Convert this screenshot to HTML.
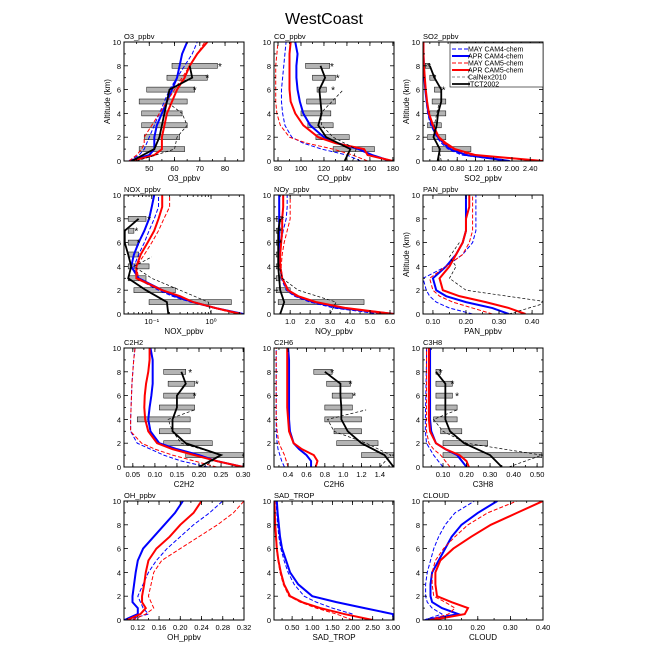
<!DOCTYPE html>
<html><head><meta charset="utf-8"><style>
html,body{margin:0;padding:0;background:#fff}
svg{display:block;font-family:"Liberation Sans",sans-serif}
</style></head><body>
<svg id="chart" width="648" height="648" viewBox="0 0 648 648">
<text x="324" y="24" text-anchor="middle" font-size="16" fill="#000">WestCoast</text>
</svg>
<script>
// shared altitude levels (km)
const ALT=[0,0.5,1,1.5,2,3,4,5,6,7,8,9,10];
const OBS_ALT=[0,1,2,3,4,5,6,7,8];
const CAL_ALT=[0,1,2,3,4,4.8,6];
const BAR_ALT=[1,2,3,4,5,6,7,8];
const STAR_ALT=[6,7,8];
const SERIES_NAMES=["MAY CAM4-chem","APR CAM4-chem","MAY CAM5-chem","APR CAM5-chem","CalNex2010","ITCT2002"];

// O3
const O3_may4=[42,46,48,49,50,52,54,56,58,61,64,67,69];
const O3_apr4=[42,50,52,52,52,53,55,57,59,61,62,63,65];
const O3_may5=[42,45,47,48,48,51,54,57,60,63,66,69,72];
const O3_apr5=[43,52,55,55,55,56,57,59,61,64,66,69,73];
const O3_itct=[43,52,54,55,56,57,58,67,66];
const O3_cal=[45,60,61,65,63,58];
const O3_barLo=[46,48,47,47,46,49,57,59];
const O3_barHi=[64,62,65,63,65,68,73,77];
const O3_star=[68,73,78];
// CO
const CO_may4=[152,140,118,102,92,86,84,83,83,84,85,86,87];
const CO_apr4=[178,162,150,132,120,108,102,99,97,96,96,97,95];
const CO_may5=[158,145,128,105,90,82,79,78,78,78,78,79,80];
const CO_apr5=[180,158,155,130,115,102,95,91,90,90,90,90,91];
const CO_itct=[138,143,122,115,118,117,116,121,117];
const CO_cal=[145,148,128,118,117,125,137];
const CO_barLo=[128,113,106,100,105,114,110,104];
const CO_barHi=[164,142,128,126,130,122,130,125];
const CO_star=[128,132,127];
// SO2
const SO2_may4=[1.9,0.9,0.6,0.45,0.35,0.22,0.15,0.12,0.1,0.08,0.07,0.06,0.06];
const SO2_apr4=[1.95,1.0,0.65,0.5,0.38,0.25,0.17,0.13,0.1,0.08,0.07,0.06,0.06];
const SO2_may5=[2.6,1.1,0.7,0.5,0.38,0.25,0.17,0.13,0.1,0.08,0.07,0.06,0.06];
const SO2_apr5=[2.68,1.2,0.75,0.55,0.4,0.27,0.18,0.14,0.11,0.09,0.07,0.06,0.06];
const SO2_itct=[0.37,0.42,0.28,0.35,0.38,0.45,0.45,0.3,0.2];
const SO2_cal=[0.45,0.4,0.28,0.3,0.35,0.4];
const SO2_barLo=[0.25,0.15,0.15,0.2,0.25,0.3,0.2,0.1];
const SO2_barHi=[1.1,0.55,0.45,0.55,0.55,0.45,0.32,0.2];
const SO2_star=[0.5,0.3,0.18];
// NOX
const NOX_may4=[3,1.1,0.45,0.22,0.13,0.055,0.05,0.06,0.075,0.09,0.11,0.13,0.13];
const NOX_apr4=[3.5,1.2,0.5,0.25,0.15,0.06,0.045,0.05,0.06,0.075,0.09,0.1,0.11];
const NOX_may5=[2.8,1.1,0.5,0.28,0.15,0.06,0.055,0.075,0.1,0.13,0.16,0.2,0.2];
const NOX_apr5=[3.2,1.2,0.5,0.3,0.15,0.055,0.055,0.065,0.085,0.11,0.13,0.15,0.15];
const NOX_itct=[0.19,0.18,0.08,0.04,0.045,0.04,0.035,0.035,0.06];
const NOX_cal=[1.0,0.9,0.3,0.1,0.05,0.1];
const NOX_barLo=[0.09,0.05,0.04,0.04,0.04,0.04,0.04,0.04];
const NOX_barHi=[2.2,0.25,0.08,0.09,0.06,0.06,0.05,0.08];
const NOX_star=[0.06,0.055,0.09];
// NOy
const NOY_may4=[5.5,3.2,2.0,1.2,0.8,0.55,0.5,0.5,0.55,0.65,0.8,0.85,0.85];
const NOY_apr4=[6.2,3.5,2.2,1.3,0.9,0.6,0.5,0.45,0.45,0.45,0.45,0.45,0.45];
const NOY_may5=[5.8,3.6,2.2,1.3,0.85,0.6,0.55,0.6,0.7,0.85,1.0,1.0,1.0];
const NOY_apr5=[6.2,3.8,2.3,1.4,0.9,0.6,0.5,0.5,0.55,0.6,0.6,0.65,0.65];
const NOY_itct=[0.5,0.7,0.5,0.45,0.4,0.4,0.4,0.4,0.5];
const NOY_cal=[3.0,3.3,1.4,0.6,0.45,0.4];
const NOY_barLo=[0.4,0.3,0.3,0.3,0.3,0.3,0.3,0.3];
const NOY_barHi=[4.7,1.0,0.5,0.5,0.5,0.5,0.5,0.6];
const NOY_star=[0.5,0.5,0.6];
// PAN
const PAN_may4=[0.22,0.15,0.11,0.09,0.08,0.07,0.14,0.19,0.22,0.23,0.23,0.23,0.23];
const PAN_apr4=[0.33,0.28,0.2,0.14,0.11,0.1,0.14,0.17,0.19,0.2,0.2,0.2,0.2];
const PAN_may5=[0.28,0.22,0.16,0.12,0.1,0.09,0.14,0.19,0.21,0.22,0.22,0.22,0.22];
const PAN_apr5=[0.38,0.33,0.26,0.18,0.13,0.12,0.15,0.17,0.19,0.2,0.2,0.21,0.21];
const PAN_cal=[0.33,0.45,0.2,0.15,0.17,0.15,0.18];
// C2H2
const C2H2_may4=[0.22,0.16,0.12,0.09,0.06,0.045,0.045,0.046,0.047,0.048,0.05,0.052,0.055];
const C2H2_apr4=[0.3,0.24,0.2,0.15,0.11,0.09,0.085,0.088,0.092,0.095,0.095,0.095,0.09];
const C2H2_may5=[0.24,0.19,0.14,0.1,0.07,0.045,0.045,0.046,0.047,0.048,0.05,0.052,0.055];
const C2H2_apr5=[0.3,0.24,0.19,0.14,0.105,0.085,0.078,0.076,0.077,0.08,0.085,0.088,0.088];
const C2H2_itct=[0.2,0.25,0.17,0.14,0.14,0.15,0.15,0.17,0.16];
const C2H2_cal=[0.21,0.25,0.16,0.14,0.13,0.19];
const C2H2_barLo=[0.17,0.12,0.11,0.06,0.11,0.12,0.13,0.12];
const C2H2_barHi=[0.3,0.23,0.18,0.18,0.19,0.19,0.19,0.17];
const C2H2_star=[0.19,0.195,0.18];
// C2H6
const C2H6_may4=[0.36,0.33,0.31,0.29,0.28,0.27,0.27,0.27,0.27,0.27,0.27,0.27,0.27];
const C2H6_apr4=[0.65,0.65,0.6,0.52,0.46,0.42,0.41,0.41,0.41,0.41,0.41,0.41,0.4];
const C2H6_may5=[0.4,0.38,0.36,0.33,0.3,0.28,0.27,0.27,0.27,0.27,0.27,0.27,0.27];
const C2H6_apr5=[0.7,0.72,0.68,0.55,0.46,0.41,0.4,0.39,0.39,0.39,0.39,0.39,0.39];
const C2H6_itct=[1.55,1.45,1.2,1.05,0.98,0.98,0.97,0.97,0.8];
const C2H6_cal=[1.4,1.52,1.25,0.9,0.83,1.25];
const C2H6_barLo=[1.2,0.93,0.9,0.8,0.8,0.88,0.82,0.68];
const C2H6_barHi=[1.55,1.38,1.2,1.2,1.1,1.1,1.08,0.88];
const C2H6_star=[1.12,1.08,0.88];
// C3H8
const C3H8_may4=[0.1,0.08,0.06,0.045,0.03,0.025,0.025,0.026,0.027,0.028,0.029,0.03,0.03];
const C3H8_apr4=[0.2,0.18,0.16,0.11,0.07,0.05,0.045,0.045,0.045,0.045,0.045,0.045,0.045];
const C3H8_may5=[0.13,0.11,0.09,0.06,0.04,0.03,0.03,0.03,0.03,0.03,0.03,0.03,0.03];
const C3H8_apr5=[0.21,0.2,0.17,0.11,0.07,0.045,0.04,0.04,0.04,0.04,0.04,0.04,0.04];
const C3H8_itct=[0.35,0.3,0.19,0.13,0.11,0.11,0.11,0.11,0.07];
const C3H8_cal=[0.38,0.52,0.2,0.1,0.06,0.16];
const C3H8_barLo=[0.1,0.1,0.09,0.06,0.07,0.07,0.07,0.07];
const C3H8_barHi=[0.52,0.29,0.18,0.16,0.16,0.14,0.14,0.09];
const C3H8_star=[0.16,0.14,0.09];
// OH
const OH_may4=[0.1,0.14,0.13,0.125,0.12,0.13,0.14,0.155,0.175,0.2,0.225,0.255,0.28];
const OH_apr4=[0.095,0.12,0.12,0.11,0.11,0.113,0.116,0.12,0.13,0.15,0.17,0.19,0.205];
const OH_may5=[0.11,0.135,0.15,0.145,0.14,0.145,0.15,0.165,0.2,0.235,0.27,0.3,0.32];
const OH_apr5=[0.1,0.125,0.135,0.128,0.128,0.132,0.135,0.14,0.155,0.18,0.2,0.225,0.24];
// SAD
const SAD_may4=[2.0,2.0,1.5,1.1,0.8,0.55,0.4,0.3,0.22,0.17,0.14,0.12,0.1];
const SAD_apr4=[3.03,3.0,2.3,1.6,1.0,0.65,0.45,0.35,0.25,0.2,0.17,0.14,0.12];
const SAD_may5=[2.0,1.6,1.1,0.7,0.42,0.28,0.2,0.15,0.11,0.09,0.08,0.07,0.06];
const SAD_apr5=[2.5,1.8,1.2,0.75,0.45,0.3,0.22,0.16,0.12,0.1,0.08,0.07,0.06];
// CLOUD
const CLD_may4=[0.035,0.09,0.06,0.045,0.04,0.04,0.045,0.055,0.065,0.08,0.1,0.13,0.19];
const CLD_apr4=[0.04,0.14,0.09,0.06,0.055,0.055,0.06,0.08,0.1,0.12,0.15,0.2,0.26];
const CLD_may5=[0.05,0.11,0.13,0.1,0.065,0.06,0.06,0.07,0.095,0.13,0.17,0.23,0.32];
const CLD_apr5=[0.06,0.16,0.17,0.12,0.075,0.07,0.07,0.085,0.125,0.18,0.24,0.32,0.40];

const PANELS=[
 {id:"o3",t:"O3_ppbv",xl:"O3_ppbv",c:0,r:0,min:40,max:87.5,ticks:[50,60,70,80],lab:["50","60","70","80"],minor:5,alt:true,m:[O3_may4,O3_apr4,O3_may5,O3_apr5],itct:O3_itct,cal:O3_cal,lo:O3_barLo,hi:O3_barHi,star:O3_star},
 {id:"co",t:"CO_ppbv",xl:"CO_ppbv",c:1,r:0,min:76.5,max:181,ticks:[80,100,120,140,160,180],lab:["80","100","120","140","160","180"],minor:10,m:[CO_may4,CO_apr4,CO_may5,CO_apr5],itct:CO_itct,cal:CO_cal,lo:CO_barLo,hi:CO_barHi,star:CO_star},
 {id:"so2",t:"SO2_ppbv",xl:"SO2_ppbv",c:2,r:0,min:0.05,max:2.68,ticks:[0.4,0.8,1.2,1.6,2.0,2.4],lab:["0.40","0.80","1.20","1.60","2.00","2.40"],minor:0.2,alt:true,legend:true,m:[SO2_may4,SO2_apr4,SO2_may5,SO2_apr5],itct:SO2_itct,cal:SO2_cal,lo:SO2_barLo,hi:SO2_barHi,star:SO2_star},
 {id:"nox",t:"NOX_ppbv",xl:"NOX_ppbv",c:0,r:1,min:0.034,max:3.6,log:true,ticks:[0.1,1],lab:["10\u207B\u00B9","10\u2070"],m:[NOX_may4,NOX_apr4,NOX_may5,NOX_apr5],itct:NOX_itct,cal:NOX_cal,lo:NOX_barLo,hi:NOX_barHi,star:NOX_star},
 {id:"noy",t:"NOy_ppbv",xl:"NOy_ppbv",c:1,r:1,min:0.19,max:6.2,ticks:[1,2,3,4,5,6],lab:["1.0","2.0","3.0","4.0","5.0","6.0"],minor:0.5,m:[NOY_may4,NOY_apr4,NOY_may5,NOY_apr5],itct:NOY_itct,cal:NOY_cal,lo:NOY_barLo,hi:NOY_barHi,star:NOY_star},
 {id:"pan",t:"PAN_ppbv",xl:"PAN_ppbv",c:2,r:1,min:0.07,max:0.433,ticks:[0.1,0.2,0.3,0.4],lab:["0.10","0.20","0.30","0.40"],minor:0.05,alt:true,m:[PAN_may4,PAN_apr4,PAN_may5,PAN_apr5],cal:PAN_cal},
 {id:"c2h2",t:"C2H2",xl:"C2H2",c:0,r:2,min:0.03,max:0.302,ticks:[0.05,0.1,0.15,0.2,0.25,0.3],lab:["0.05","0.10","0.15","0.20","0.25","0.30"],minor:0.025,m:[C2H2_may4,C2H2_apr4,C2H2_may5,C2H2_apr5],itct:C2H2_itct,cal:C2H2_cal,lo:C2H2_barLo,hi:C2H2_barHi,star:C2H2_star},
 {id:"c2h6",t:"C2H6",xl:"C2H6",c:1,r:2,min:0.246,max:1.554,ticks:[0.4,0.6,0.8,1.0,1.2,1.4],lab:["0.4","0.6","0.8","1.0","1.2","1.4"],minor:0.1,m:[C2H6_may4,C2H6_apr4,C2H6_may5,C2H6_apr5],itct:C2H6_itct,cal:C2H6_cal,lo:C2H6_barLo,hi:C2H6_barHi,star:C2H6_star},
 {id:"c3h8",t:"C3H8",xl:"C3H8",c:2,r:2,min:0.015,max:0.525,ticks:[0.1,0.2,0.3,0.4,0.5],lab:["0.10","0.20","0.30","0.40","0.50"],minor:0.05,m:[C3H8_may4,C3H8_apr4,C3H8_may5,C3H8_apr5],itct:C3H8_itct,cal:C3H8_cal,lo:C3H8_barLo,hi:C3H8_barHi,star:C3H8_star},
 {id:"oh",t:"OH_ppbv",xl:"OH_ppbv",c:0,r:3,min:0.094,max:0.32,ticks:[0.12,0.16,0.2,0.24,0.28,0.32],lab:["0.12","0.16","0.20","0.24","0.28","0.32"],minor:0.02,m:[OH_may4,OH_apr4,OH_may5,OH_apr5]},
 {id:"sad",t:"SAD_TROP",xl:"SAD_TROP",c:1,r:3,min:0.05,max:3.03,ticks:[0.5,1,1.5,2,2.5,3],lab:["0.50","1.00","1.50","2.00","2.50","3.00"],minor:0.25,m:[SAD_may4,SAD_apr4,SAD_may5,SAD_apr5]},
 {id:"cloud",t:"CLOUD",xl:"CLOUD",c:2,r:3,min:0.032,max:0.40,ticks:[0.1,0.2,0.3,0.4],lab:["0.10","0.20","0.30","0.40"],minor:0.05,m:[CLD_may4,CLD_apr4,CLD_may5,CLD_apr5]}
];
const COLX=[124,274,423], ROWY=[42,195,348,501], W=120, H=119;
const NS="http://www.w3.org/2000/svg";
const svg=document.getElementById("chart");
function mk(tag,attrs,parent){const e=document.createElementNS(NS,tag);for(const k in attrs)e.setAttribute(k,attrs[k]);(parent||svg).appendChild(e);return e;}
const STY=[{c:"#0000ff",w:1,d:"4,2"},{c:"#0000ff",w:2,d:""},{c:"#ff0000",w:1,d:"4,2"},{c:"#ff0000",w:2,d:""}];

PANELS.forEach(p=>{
  const x0=COLX[p.c], y0=ROWY[p.r];
  const g=mk("g",{});
  
  
  const sx=v=>p.log? x0+W*(Math.log10(v)-Math.log10(p.min))/(Math.log10(p.max)-Math.log10(p.min)) : x0+W*(v-p.min)/(p.max-p.min);
  const sy=a=>y0+H*(1-a/10);
  const clip="clip-"+p.id;
  const cp=mk("clipPath",{id:clip},g); mk("rect",{x:x0,y:y0,width:W,height:H},cp);
  const plot=mk("g",{"clip-path":"url(#"+clip+")"},g);
  // bars
  if(p.lo){BAR_ALT.forEach((a,i)=>{
    const r=mk("rect",{x:sx(p.lo[i]),y:sy(a)-2.5,width:Math.max(1,sx(p.hi[i])-sx(p.lo[i])),height:5,fill:"#b4b4b4",stroke:"#000","stroke-width":0.5},plot);
    
    
  });}
  // model lines
  p.m.forEach((s,k)=>{
    const st=STY[k];
    const pl=mk("polyline",{points:s.map((v,i)=>sx(v)+","+sy(ALT[i])).join(" "),fill:"none",stroke:st.c,"stroke-width":st.w,"stroke-dasharray":st.d},plot);
    
    
  });
  if(p.cal){
    const pl=mk("polyline",{points:p.cal.map((v,i)=>sx(v)+","+sy(CAL_ALT[i])).join(" "),fill:"none",stroke:"#000","stroke-width":0.7,"stroke-dasharray":"3,2"},plot);
    
    
  }
  if(p.itct){
    const pl=mk("polyline",{points:p.itct.map((v,i)=>sx(v)+","+sy(OBS_ALT[i])).join(" "),fill:"none",stroke:"#000","stroke-width":1.8},plot);
    
    
  }
  if(p.star){STAR_ALT.forEach((a,i)=>{
    const t=mk("text",{x:sx(p.star[i]),y:sy(a)+4,"text-anchor":"middle","font-size":10,fill:"#000"},plot);
    t.textContent="*";
    
    
  });}
  // frame
  const fr=mk("rect",{x:x0,y:y0,width:W,height:H,fill:"none",stroke:"#000","stroke-width":1},g);
  
  
  // y ticks
  for(let a=0;a<=10;a++){
    const L=a%2===0?4:2, y=sy(a);
    mk("line",{x1:x0,x2:x0+L,y1:y,y2:y,stroke:"#000","stroke-width":0.8},g);
    mk("line",{x1:x0+W,x2:x0+W-L,y1:y,y2:y,stroke:"#000","stroke-width":0.8},g);
    if(a%2===0){const t=mk("text",{x:x0-3,y:y+3,"text-anchor":"end","font-size":7.5},g);t.textContent=a;
      }
  }
  // x minor ticks
  const minors=[];
  if(p.log){for(let d=-2;d<=1;d++)for(let m=1;m<=9;m++){const v=m*Math.pow(10,d);if(v>=p.min&&v<=p.max)minors.push(v);}}
  else{for(let v=Math.ceil(p.min/p.minor)*p.minor;v<=p.max+1e-9;v+=p.minor)minors.push(v);}
  minors.forEach(v=>{const x=sx(v);
    mk("line",{x1:x,x2:x,y1:y0+H,y2:y0+H-2,stroke:"#000","stroke-width":0.8},g);
    mk("line",{x1:x,x2:x,y1:y0,y2:y0+2,stroke:"#000","stroke-width":0.8},g);});
  p.ticks.forEach((v,i)=>{const x=sx(v);
    mk("line",{x1:x,x2:x,y1:y0+H,y2:y0+H-4,stroke:"#000","stroke-width":0.8},g);
    mk("line",{x1:x,x2:x,y1:y0,y2:y0+4,stroke:"#000","stroke-width":0.8},g);
    const t=mk("text",{x:x,y:y0+H+10,"text-anchor":"middle","font-size":7.5},g);t.textContent=p.lab[i];
    });
  const tt=mk("text",{x:x0,y:y0-3,"font-size":7.5},g);tt.textContent=p.t;
  
  const xl=mk("text",{x:x0+W/2,y:y0+H+20,"text-anchor":"middle","font-size":8},g);xl.textContent=p.xl;
  
  if(p.alt){const yt=mk("text",{x:0,y:0,"text-anchor":"middle","font-size":8,transform:"translate("+(x0-14)+","+(y0+H/2)+") rotate(-90)"},g);yt.textContent="Altitude (km)";
    }
  if(p.legend){
    const lg=mk("g",{},g);
    
    
    mk("rect",{x:450,y:43,width:93,height:44,fill:"#fff",stroke:"#000","stroke-width":0.6},lg);
    const lsty=[STY[0],STY[1],STY[2],STY[3],{c:"#888",w:1,d:"3,2"},{c:"#000",w:1.8,d:""}];
    SERIES_NAMES.forEach((n,i)=>{const y=49+i*7;
      const e=mk("g",{},lg);
      
      
      mk("line",{x1:452,x2:470,y1:y,y2:y,stroke:lsty[i].c,"stroke-width":lsty[i].w,"stroke-dasharray":lsty[i].d},e);
      const t=mk("text",{x:468,y:y+2.5,"font-size":7},e);t.textContent=n;});
  }
});
</script>
</body></html>
